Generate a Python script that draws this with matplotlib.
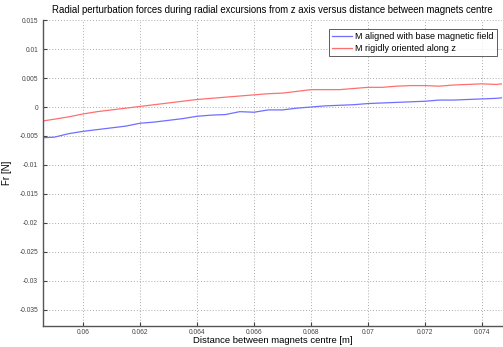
import matplotlib
matplotlib.use("Agg")
import matplotlib.pyplot as plt

plt.rcParams['font.family'] = ['Liberation Sans', 'DejaVu Sans']

distance = [0.0586, 0.059, 0.0595, 0.06, 0.0605, 0.061, 0.0615, 0.062, 0.0625, 0.063,
            0.0635, 0.064, 0.0645, 0.065, 0.0655, 0.066, 0.0665, 0.067, 0.0675, 0.068,
            0.0685, 0.069, 0.0695, 0.07, 0.0705, 0.071, 0.0715, 0.072, 0.0725, 0.073,
            0.0735, 0.074, 0.0745, 0.0747]
fr_aligned = [-0.0053, -0.0052, -0.0046, -0.0042, -0.0039, -0.0036, -0.0033, -0.0028, -0.0026, -0.0023,
              -0.0020, -0.0016, -0.0014, -0.0013, -0.0008, -0.0009, -0.0005, -0.0005, -0.0002, 0.0000,
              0.0002, 0.0003, 0.0004, 0.0006, 0.0007, 0.0008, 0.0009, 0.0010, 0.0012, 0.0012,
              0.0013, 0.0014, 0.0015, 0.0016]
fr_rigid = [-0.0024, -0.0021, -0.0017, -0.0012, -0.0008, -0.0005, -0.0002, 0.0001, 0.0004, 0.0007,
            0.0010, 0.0013, 0.0015, 0.0017, 0.0019, 0.0021, 0.0023, 0.0024, 0.0027, 0.0030,
            0.0030, 0.0030, 0.0032, 0.0034, 0.0034, 0.0036, 0.0037, 0.0037, 0.0036, 0.0038,
            0.0039, 0.0040, 0.0039, 0.0040]
labels = ["M aligned with base magnetic field", "M rigidly oriented along z"]
xticks = [0.06, 0.062, 0.064, 0.066, 0.068, 0.07, 0.072, 0.074]
yticks = [0.015, 0.01, 0.005, 0, -0.005, -0.01, -0.015, -0.02, -0.025, -0.03, -0.035]

fig = plt.figure(figsize=(5.03, 3.47), dpi=100)
ax = fig.add_axes([0.0855, 0.0605, 0.9125, 0.8815])
ax.plot(distance, fr_aligned, color="#6f6fff", lw=0.9, label=labels[0])
ax.plot(distance, fr_rigid, color="#ff6f6f", lw=0.9, label=labels[1])
ax.set_xlim(0.0586, 0.0747)
ax.set_ylim(-0.0378, 0.015)
ax.set_xticks(xticks)
ax.set_xticklabels([f"{v:g}" for v in xticks])
ax.set_yticks(yticks)
ax.set_yticklabels([f"{v:g}" for v in yticks])
ax.tick_params(direction="in", labelsize=4.8, colors="#444444", length=3, width=0.8)
ax.tick_params(axis="x", pad=2.5)
ax.grid(True, linestyle=(0, (1, 2)), color="#aaaaaa", lw=0.7)
for s in ["top", "right"]:
    ax.spines[s].set_visible(False)
for s in ["left", "bottom"]:
    ax.spines[s].set_color("#555555")
    ax.spines[s].set_linewidth(1.0)
ax.set_xlabel("Distance between magnets centre [m]", fontsize=6.8, labelpad=-0.5)
ax.set_ylabel("Fr [N]", fontsize=7, labelpad=5)
ax.set_title("Radial perturbation forces during radial excursions from z axis versus distance between magnets centre",
             fontsize=6.95, pad=5, x=0.5)
leg = ax.legend(loc="upper right", bbox_to_anchor=(0.999, 0.985), fontsize=6.5, frameon=True,
                fancybox=False, edgecolor="#333333", handlelength=2.2, borderpad=0.35,
                labelspacing=0.3, handletextpad=0.4)
leg.get_frame().set_linewidth(0.7)
fig.savefig("out.png", dpi=100)
